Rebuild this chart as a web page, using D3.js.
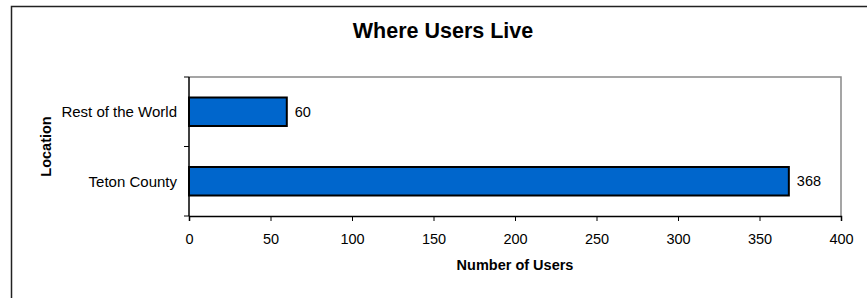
<!DOCTYPE html>
<html>
<head>
<meta charset="utf-8">
<script src="https://cdn.jsdelivr.net/npm/d3@7"></script>
<style>
  body { margin: 0; background: #fff; }
  text { font-family: "Liberation Sans", Arial, sans-serif; }
</style>
</head>
<body>
<div id="chart"></div>
<script>
const categories = ["Rest of the World", "Teton County"]
const users = [60, 368]
const xTicks = [0, 50, 100, 150, 200, 250, 300, 350, 400]

const W = 867
const H = 298
const margin = { top: 77, right: 26, bottom: 82, left: 189 }
const width = W - margin.left - margin.right
const height = H - margin.top - margin.bottom

const svg = d3.select("#chart")
  .append("svg")
  .attr("width", W)
  .attr("height", H)

// outer chart frame (runs off the right/bottom edge)
svg.append("rect")
  .attr("x", 11.5)
  .attr("y", 6.5)
  .attr("width", W + 20)
  .attr("height", H + 20)
  .attr("fill", "none")
  .attr("stroke", "#222")
  .attr("stroke-width", 1.5)

svg.append("text")
  .attr("x", 443)
  .attr("y", 38)
  .attr("text-anchor", "middle")
  .attr("font-size", "21.5px")
  .attr("font-weight", "bold")
  .text("Where Users Live")

const g = svg.append("g").attr("transform", `translate(${margin.left},${margin.top})`)

const x = d3.scaleLinear().domain([0, 400]).range([0, width])
const y = d3.scaleBand()
  .domain(categories)
  .range([0, height])
  .paddingInner(0.59)
  .paddingOuter(0.295)

// plot area frame: gray top and right
g.append("path")
  .attr("d", `M0,0H${width}V${height}`)
  .attr("fill", "none")
  .attr("stroke", "#888")
  .attr("stroke-width", 1.5)

g.selectAll(".bar")
  .data(categories)
  .enter()
  .append("rect")
  .attr("class", "bar")
  .attr("x", x(0))
  .attr("y", (d) => y(d))
  .attr("width", (d, i) => x(users[i]) - x(0))
  .attr("height", y.bandwidth())
  .attr("fill", "#0066cc")
  .attr("stroke", "#000")
  .attr("stroke-width", 2)

g.selectAll(".value")
  .data(categories)
  .enter()
  .append("text")
  .attr("class", "value")
  .attr("x", (d, i) => x(users[i]) + 8)
  .attr("y", (d) => y(d) + y.bandwidth() / 2)
  .attr("dy", "0.35em")
  .attr("font-size", "14.5px")
  .attr("fill", "#000")
  .text((d, i) => users[i])

const xAxis = g.append("g")
  .attr("transform", `translate(0,${height})`)
  .call(d3.axisBottom(x).tickValues(xTicks).tickSize(5).tickPadding(13))
xAxis.select(".domain").attr("stroke", "#000").attr("stroke-width", 1.5)
xAxis.selectAll(".tick line").attr("stroke", "#000")
xAxis.selectAll(".tick text")
  .attr("font-size", "14.5px")
  .attr("font-family", "Liberation Sans, Arial, sans-serif")
  .attr("fill", "#000")

// y axis: ticks at band boundaries, labels at band centres
const yAxis = g.append("g")
yAxis.append("line")
  .attr("x1", 0).attr("x2", 0)
  .attr("y1", 0).attr("y2", height)
  .attr("stroke", "#000")
  .attr("stroke-width", 1.5)
const bounds = categories.map((d) => y(d) - y.step() * y.paddingInner() / 2).concat([height])
yAxis.selectAll(".ytick")
  .data(bounds)
  .enter()
  .append("line")
  .attr("class", "ytick")
  .attr("x1", -5).attr("x2", 0)
  .attr("y1", (d) => d).attr("y2", (d) => d)
  .attr("stroke", "#000")
yAxis.selectAll(".ylabel")
  .data(categories)
  .enter()
  .append("text")
  .attr("class", "ylabel")
  .attr("x", -12)
  .attr("y", (d) => y(d) + y.bandwidth() / 2)
  .attr("dy", "0.35em")
  .attr("text-anchor", "end")
  .attr("font-size", "15px")
  .text((d) => d)

g.append("text")
  .attr("x", width / 2)
  .attr("y", height + 54)
  .attr("text-anchor", "middle")
  .attr("font-size", "14.5px")
  .attr("font-weight", "bold")
  .text("Number of Users")

g.append("text")
  .attr("transform", "rotate(-90)")
  .attr("x", -height / 2)
  .attr("y", -138.5)
  .attr("text-anchor", "middle")
  .attr("font-size", "14.5px")
  .attr("font-weight", "bold")
  .text("Location")
</script>
</body>
</html>
